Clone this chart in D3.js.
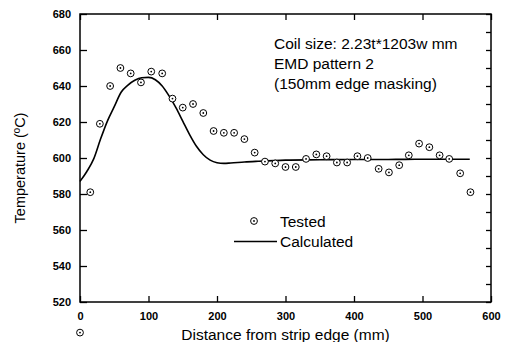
<!DOCTYPE html>
<html>
<head>
<meta charset="utf-8">
<script src="https://cdn.jsdelivr.net/npm/d3@7"></script>
<style>
  body { margin: 0; background: #fff; }
  svg text { font-family: "Liberation Sans", Arial, sans-serif; fill: #000; }
</style>
</head>
<body>
<svg id="chart" width="506" height="342"></svg>
<script>
// Tested points (distance mm, temperature C)
const testedX = [15, 29, 44, 59, 74, 89, 104, 120, 135, 150, 165, 180, 195, 210, 225, 240, 255, 270, 285,
  300, 315, 330, 345, 360, 375, 390, 405, 420, 436, 451, 466, 480, 495, 510, 525, 539, 555, 570];
const testedT = [581, 619, 640, 650, 647, 642, 648, 647, 633, 628, 630, 625, 615, 614, 614, 610.5, 603, 598, 597,
  595, 595, 599.5, 602, 601, 597.5, 597.5, 601, 600, 594, 592, 596, 601.5, 608, 606, 601.5, 599.5, 591.5, 581];

// Calculated curve
const calcX = [0, 10, 20, 30, 40, 50, 60, 70, 80, 90, 100, 110, 120, 130, 140, 150, 160, 170, 180, 190,
  200, 210, 220, 240, 260, 300, 350, 400, 450, 500, 550, 569];
const calcT = [587, 592.5, 599.5, 610.5, 620.5, 628.5, 636.5, 640.5, 643.2, 644.6, 644.8, 643.5, 640, 634.5, 628, 620.5,
  613, 606.5, 601.8, 598.8, 597.4, 597, 597.2, 597.8, 598.2, 598.8, 599, 599.2, 599.2, 599.3, 599.3, 599.3];

// stray symbol printed below the axis in the original
const strayX = [0];
const strayT = [503];

const xTicks = [0, 100, 200, 300, 400, 500, 600];
const yTicks = [520, 540, 560, 580, 600, 620, 640, 660, 680];
const yMinorTicks = d3.range(520, 681, 10);

const infoLines = ["Coil size: 2.23t*1203w mm", "EMD pattern 2", "(150mm edge masking)"];

const svg = d3.select("#chart");
const margin = { left: 80, right: 15, top: 14, bottom: 40 };
const W = 506, H = 342;

const x = d3.scaleLinear().domain([0, 600]).range([margin.left, W - margin.right]);
const y = d3.scaleLinear().domain([520, 680]).range([H - margin.bottom, margin.top]);

// frame
svg.append("rect")
  .attr("x", x(0)).attr("y", y(680))
  .attr("width", x(600) - x(0)).attr("height", y(520) - y(680))
  .attr("fill", "none").attr("stroke", "#000").attr("stroke-width", 1.5);

// axes with inward ticks
const axBottom = svg.append("g").attr("transform", `translate(0,${y(520)})`)
  .call(d3.axisBottom(x).tickValues(xTicks).tickSizeInner(-6).tickSizeOuter(0).tickPadding(10));
const axTop = svg.append("g").attr("transform", `translate(0,${y(680)})`)
  .call(d3.axisTop(x).tickValues(xTicks).tickSizeInner(-6).tickSizeOuter(0).tickFormat(""));
const axLeft = svg.append("g").attr("transform", `translate(${x(0)},0)`)
  .call(d3.axisLeft(y).tickValues(yTicks).tickSizeInner(-7).tickSizeOuter(0).tickPadding(9));
const axRight = svg.append("g").attr("transform", `translate(${x(600)},0)`)
  .call(d3.axisRight(y).tickValues(yMinorTicks).tickSizeInner(-5).tickSizeOuter(0).tickFormat(""));

[axBottom, axTop, axLeft, axRight].forEach(g => {
  g.select(".domain").remove();
  g.selectAll(".tick line").attr("stroke", "#000").attr("stroke-width", 1.3);
  g.selectAll(".tick text").attr("font-size", 11).attr("font-weight", "bold").attr("fill", "#000")
    .attr("font-family", "Liberation Sans, Arial, sans-serif");
});

// calculated line
const line = d3.line().x((d, i) => x(calcX[i])).y(d => y(d)).curve(d3.curveMonotoneX);
svg.append("path").datum(calcT)
  .attr("d", line)
  .attr("fill", "none").attr("stroke", "#000").attr("stroke-width", 1.6);

// tested markers
function marker(sel) {
  sel.append("circle").attr("r", 3.4).attr("fill", "#fff").attr("stroke", "#000").attr("stroke-width", 1);
  sel.append("circle").attr("r", 0.9).attr("fill", "#000");
}
svg.append("g").selectAll("g").data(testedT).join("g")
  .attr("transform", (d, i) => `translate(${x(testedX[i])},${y(d)})`)
  .call(marker);
svg.append("g").selectAll("g").data(strayT).join("g")
  .attr("transform", (d, i) => `translate(${x(strayX[i])},${y(d)})`)
  .call(marker);

// info text
svg.append("g").selectAll("text").data(infoLines).join("text")
  .attr("x", 274).attr("y", (d, i) => 49 + i * 20)
  .attr("font-size", 15.5)
  .text(d => d);

// legend
const lg = svg.append("g");
lg.append("g").attr("transform", "translate(254,221)").call(marker);
lg.append("text").attr("x", 280).attr("y", 227).attr("font-size", 15.5).text("Tested");
lg.append("line").attr("x1", 234).attr("x2", 277).attr("y1", 241.5).attr("y2", 241.5)
  .attr("stroke", "#000").attr("stroke-width", 1.3);
lg.append("text").attr("x", 280).attr("y", 247).attr("font-size", 15.5).text("Calculated");

// axis titles
svg.append("text")
  .attr("x", (x(0) + x(600)) / 2).attr("y", 340)
  .attr("text-anchor", "middle").attr("font-size", 15.5)
  .text("Distance from strip edge (mm)");
svg.append("text")
  .attr("transform", `translate(25,${(y(520) + y(680)) / 2 + 10}) rotate(-90)`)
  .attr("text-anchor", "middle").attr("font-size", 14.5)
  .text("Temperature (ºC)");
</script>
</body>
</html>
